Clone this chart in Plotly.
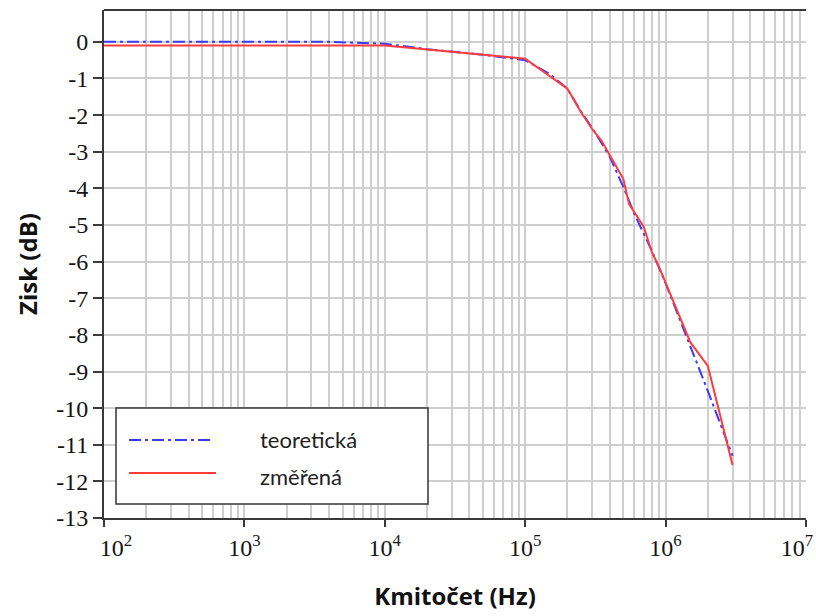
import plotly.graph_objects as go

# Data
freq_theory = [1e2, 4e3, 1e4, 2e4, 5e4, 1e5, 1.5e5, 2e5, 2.5e5, 3e5, 4e5, 5e5, 6e5, 8e5, 1e6, 1.5e6, 2e6, 3e6]
gain_theory = [0.0, 0.0, -0.05, -0.2, -0.35, -0.5, -0.88, -1.28, -1.9, -2.35, -3.13, -3.96, -4.7, -5.71, -6.59, -8.28, -9.53, -11.3]

freq_meas = [1e2, 1e4, 1e5, 2e5, 2.5e5, 3e5, 3.5e5, 5e5, 5.5e5, 7e5, 8e5, 9e5, 1.5e6, 2e6, 3e6]
gain_meas = [-0.1, -0.1, -0.46, -1.28, -1.92, -2.38, -2.7, -3.74, -4.43, -5.05, -5.75, -6.15, -8.2, -8.85, -11.55]

NB = "\u00a0"
x_tickvals = [1e2, 1e3, 1e4, 1e5, 1e6, 1e7]
x_ticktext = [NB * 4 + "10<sup>2</sup>", "10<sup>3</sup>", "10<sup>4</sup>", "10<sup>5</sup>",
              "10<sup>6</sup>", "10<sup>7</sup>" + NB * 3]
y_tickvals = list(range(0, -14, -1))
y_ticktext = ["0" if v == 0 else "-" + str(-v) for v in y_tickvals]

legend_names = ["teoretická", "změřená"]
blue = "#3a3aff"
red = "#ff3b3b"

fig = go.Figure()
fig.add_trace(go.Scatter(x=freq_theory, y=gain_theory, mode="lines", name=legend_names[0],
                         line=dict(color=blue, width=2, dash="12px,4px,3px,4px")))
fig.add_trace(go.Scatter(x=freq_meas, y=gain_meas, mode="lines", name=legend_names[1],
                         line=dict(color=red, width=2)))

grid = "#cfcfcf"
axis_col = "#3a3a3a"
tick_font = dict(family="Liberation Serif", size=24, color="#141414")
title_font = dict(family="Open Sans", size=24, color="#111", weight="bold")

fig.update_layout(
    width=816, height=616, margin=dict(l=104, r=10, t=10, b=98),
    paper_bgcolor="white", plot_bgcolor="white", showlegend=False,
    font=dict(family="Liberation Serif", size=24, color="#141414"),
    xaxis=dict(type="log", range=[2, 7.0004], tickmode="array", tickvals=x_tickvals, ticktext=x_ticktext,
               showgrid=True, gridcolor=grid, gridwidth=1.5,
               minor=dict(dtick="D1", showgrid=True, gridcolor=grid, gridwidth=1.5, ticks=""),
               ticks="outside", ticklen=7, tickwidth=2, tickcolor=axis_col,
               showline=True, linecolor=axis_col, linewidth=2, zeroline=False,
               tickfont=tick_font, ticklabeloverflow="allow", automargin=False,
               title=dict(text="Kmitočet (Hz)", font=title_font, standoff=28)),
    yaxis=dict(range=[-13, 0.87], tickmode="array", tickvals=y_tickvals, ticktext=y_ticktext,
               showgrid=True, gridcolor=grid, gridwidth=1.5,
               ticks="outside", ticklen=9, tickwidth=2, tickcolor=axis_col,
               showline=True, linecolor=axis_col, linewidth=2, zeroline=False,
               tickfont=tick_font, automargin=False,
               title=dict(text="Zisk (dB)", font=title_font, standoff=12)),
)

# top border
fig.add_shape(type="line", xref="paper", yref="paper", x0=0, x1=1, y0=1, y1=1,
              line=dict(color=axis_col, width=2), layer="above")

# manual legend box (paper coords; plot area 104..806 x, 10..518 y)
def px_x(p):
    return (p - 104) / (806 - 104)

def px_y(p):
    return (518 - p) / (518 - 10)

fig.add_shape(type="rect", xref="paper", yref="paper",
              x0=px_x(116), x1=px_x(428), y0=px_y(504), y1=px_y(408),
              fillcolor="white", line=dict(color="#333", width=1.5), layer="above")
fig.add_shape(type="line", xref="paper", yref="paper",
              x0=px_x(129), x1=px_x(212), y0=px_y(440), y1=px_y(440),
              line=dict(color=blue, width=2, dash="12px,4px,3px,4px"), layer="above")
fig.add_shape(type="line", xref="paper", yref="paper",
              x0=px_x(129), x1=px_x(216), y0=px_y(473), y1=px_y(473),
              line=dict(color=red, width=2), layer="above")
fig.add_annotation(xref="paper", yref="paper", x=px_x(258), y=px_y(439), text=legend_names[0],
                   showarrow=False, xanchor="left", yanchor="middle",
                   font=dict(family="Lato", size=22, color="#222"))
fig.add_annotation(xref="paper", yref="paper", x=px_x(258), y=px_y(476), text=legend_names[1],
                   showarrow=False, xanchor="left", yanchor="middle",
                   font=dict(family="Lato", size=22, color="#222"))

fig.write_html("out.html")
